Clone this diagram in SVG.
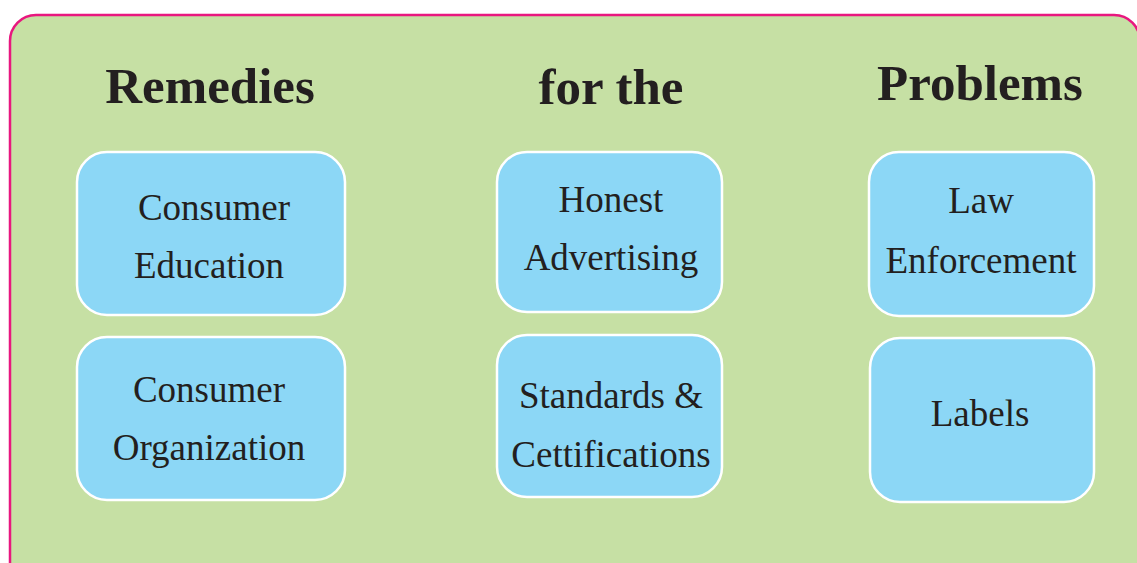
<svg xmlns="http://www.w3.org/2000/svg" width="1137" height="563" viewBox="0 0 1137 563">
<style>
.panel{fill:#c6e0a4;stroke:#e8177f;stroke-width:2.5}
.node{fill:#8cd7f6;stroke:#ffffff;stroke-width:2.5}
.title{font-family:"Liberation Serif","Times New Roman",serif;font-weight:bold;font-size:51px;fill:#231f20;text-anchor:middle}
.lbl{font-family:"Liberation Serif","Times New Roman",serif;font-size:37px;fill:#231f20;text-anchor:middle}
</style>
<rect class="panel" x="10" y="15" width="1130" height="600" rx="26" ry="26"/>
<g id="titles">
<text class="title" x="210" y="103">Remedies</text>
<text class="title" x="611" y="104">for the</text>
<text class="title" x="980" y="100">Problems</text>
</g>
<g id="connectors"></g>
<g id="node-consumer-education">
<rect class="node" x="77" y="152" width="268" height="163" rx="30" ry="30"/>
<text class="lbl" x="214" y="220">Consumer</text>
<text class="lbl" x="209" y="278">Education</text>
</g>
<g id="node-consumer-organization">
<rect class="node" x="77" y="337" width="268" height="163" rx="30" ry="30"/>
<text class="lbl" x="209" y="402">Consumer</text>
<text class="lbl" x="209" y="460">Organization</text>
</g>
<g id="node-honest-advertising">
<rect class="node" x="497" y="152" width="225" height="160" rx="30" ry="30"/>
<text class="lbl" x="611" y="212">Honest</text>
<text class="lbl" x="611" y="270">Advertising</text>
</g>
<g id="node-standards">
<rect class="node" x="497" y="335" width="225" height="162" rx="30" ry="30"/>
<text class="lbl" x="611" y="408">Standards &amp;</text>
<text class="lbl" x="611" y="467">Cettifications</text>
</g>
<g id="node-law-enforcement">
<rect class="node" x="869" y="152" width="225" height="164" rx="30" ry="30"/>
<text class="lbl" x="981" y="213">Law</text>
<text class="lbl" x="981" y="273">Enforcement</text>
</g>
<g id="node-labels">
<rect class="node" x="870" y="338" width="224" height="164" rx="30" ry="30"/>
<text class="lbl" x="980" y="426">Labels</text>
</g>
</svg>
